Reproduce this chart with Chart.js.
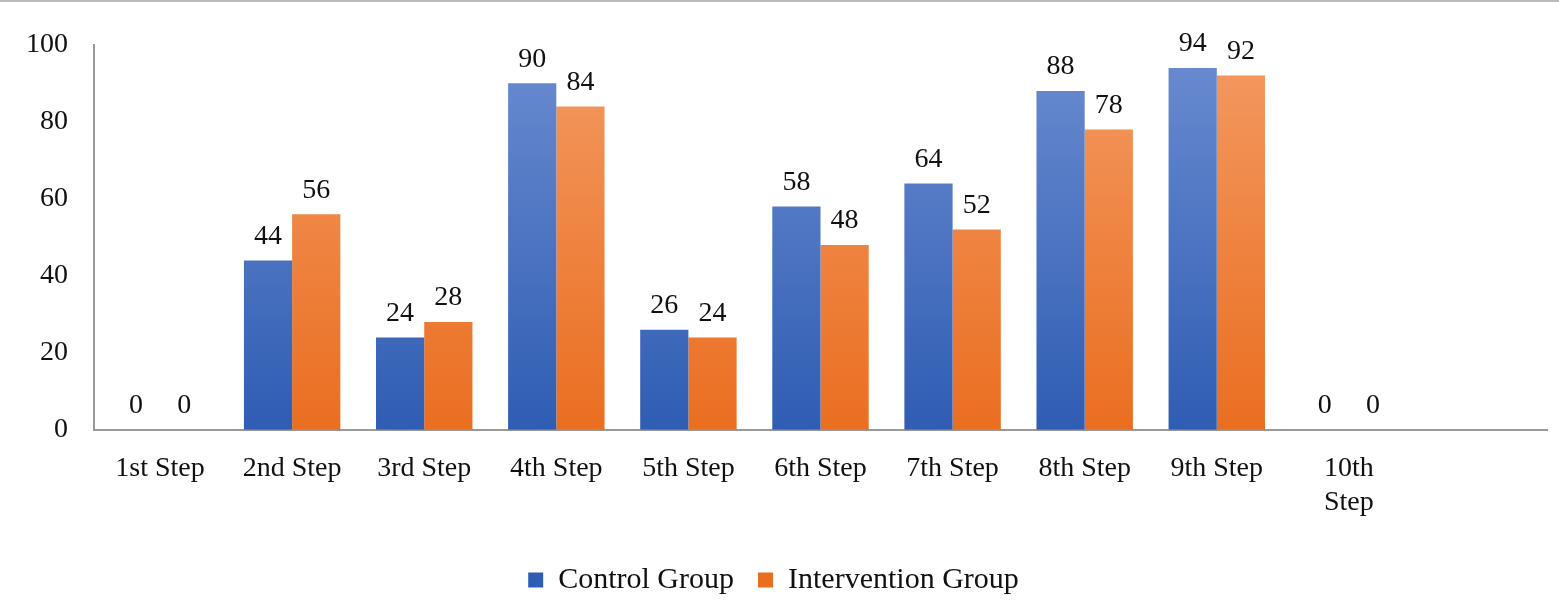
<!DOCTYPE html>
<html>
<head>
<meta charset="utf-8">
<script src="https://cdn.jsdelivr.net/npm/chart.js@4/dist/chart.umd.min.js"></script>
<style>
  html, body { margin: 0; padding: 0; background: #fff; overflow: hidden; }
  #wrap { width: 1559px; height: 605px; border-top: 2px solid #bbb; box-sizing: border-box; }
  canvas { display: block; }
</style>
</head>
<body>
<div id="wrap"><canvas id="chart" width="1559" height="603" style="width:1559px;height:603px"></canvas></div>
<script>
const categories = ["1st Step", "2nd Step", "3rd Step", "4th Step", "5th Step", "6th Step", "7th Step", "8th Step", "9th Step", ["10th", "Step"], ""];
const controlGroup = [0, 44, 24, 90, 26, 58, 64, 88, 94, 0, null];
const interventionGroup = [0, 56, 28, 84, 24, 48, 52, 78, 92, 0, null];
const yTicks = [0, 20, 40, 60, 80, 100];

const serif = "'Liberation Serif', 'DejaVu Serif', serif";

function gradient(top, bottom) {
  return (context) => {
    const { chart } = context;
    const area = chart.chartArea;
    if (!area) return bottom;
    const g = chart.ctx.createLinearGradient(0, area.top, 0, area.bottom);
    g.addColorStop(0, top);
    g.addColorStop(1, bottom);
    return g;
  };
}

// draw the value above each bar
const valueLabels = {
  id: "valueLabels",
  afterDatasetsDraw(chart) {
    const ctx = chart.ctx;
    ctx.save();
    ctx.font = "28px " + serif;
    ctx.fillStyle = "#111";
    ctx.textAlign = "center";
    ctx.textBaseline = "bottom";
    chart.data.datasets.forEach((ds, i) => {
      chart.getDatasetMeta(i).data.forEach((bar, j) => {
        if (ds.data[j] === null) return;
        ctx.fillText(ds.data[j], bar.x, bar.y - 10);
      });
    });
    ctx.restore();
  }
};

new Chart(document.getElementById("chart"), {
  type: "bar",
  data: {
    labels: categories,
    datasets: [
      {
        label: "Control Group",
        data: controlGroup,
        backgroundColor: gradient("#6b8cd0", "#2f5db3"),
        borderWidth: 0,
      },
      {
        label: "Intervention Group",
        data: interventionGroup,
        backgroundColor: gradient("#f39a62", "#ea6e20"),
        borderWidth: 0,
      },
    ],
  },
  options: {
    responsive: false,
    animation: false,
    devicePixelRatio: 1,
    layout: { padding: { top: 26, right: 12, left: 0 } },
    datasets: { bar: { categoryPercentage: 0.73, barPercentage: 1 } },
    scales: {
      x: {
        grid: { display: false, drawTicks: false },
        border: { color: "#999", width: 2 },
        ticks: {
          color: "#111",
          font: { family: serif, size: 28 },
          padding: 22,
          maxRotation: 0,
          autoSkip: false,
        },
      },
      y: {
        min: 0,
        max: 100,
        afterBuildTicks: (axis) => { axis.ticks = yTicks.map((v) => ({ value: v })); },
        grid: { display: false, drawTicks: false },
        border: { color: "#999", width: 2 },
        ticks: {
          color: "#111",
          font: { family: serif, size: 28 },
          padding: 26,
        },
      },
    },
    plugins: {
      legend: {
        position: "bottom",
        labels: {
          color: "#111",
          font: { family: serif, size: 30 },
          boxWidth: 15,
          boxHeight: 15,
          padding: 24,
        },
      },
      tooltip: { enabled: false },
    },
  },
  plugins: [valueLabels],
});
</script>
</body>
</html>
